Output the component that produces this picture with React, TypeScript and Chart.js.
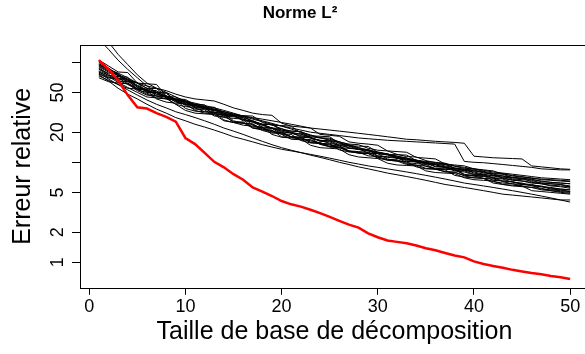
import React, { useEffect, useRef } from "react";
import { Chart, registerables } from "chart.js";

Chart.register(...registerables);

const sizes = [1,2,3,4,5,6,7,8,9,10,11,12,13,14,15,16,17,18,19,20,21,22,23,24,25,26,27,28,29,30,31,32,33,34,35,36,37,38,39,40,41,42,43,44,45,46,47,48,49,50];

const redErr = [105,85,66,47,35.5,34.5,31,28.5,25.5,17.5,15.2,12.4,10.1,8.9,7.6,6.7,5.6,5.1,4.6,4.1,3.8,3.6,3.35,3.1,2.85,2.6,2.38,2.22,1.95,1.78,1.65,1.6,1.55,1.47,1.38,1.32,1.24,1.17,1.12,1.02,0.96,0.92,0.88,0.84,0.81,0.78,0.76,0.73,0.71,0.68];

const err01 = [220,160,120,95,75,62,55,50,45,41, 38,35,33,31,29,27,25,23.5,22,21, 20,19,18,17.5,17,16,15,14,13,12.5, 12,11.5,11,10.5,10.2,10,9.6,9.2,8.9,8.6, 8.3,8,7.8,7.6,7.4,7.2,7,6.9,6.8,6.7];
const err02 = [170,135,105,85,70,58,50,46,43,40, 37,35,33,32,30,28,26,24,22,20.5, 19.5,18.5,17.5,16.5,15.5,14.8,14,13.5,13,12.3, 11.8,11.2,10.7,10.3,9.8,9.4,9,8.6,8.3,8, 7.6,7.3,7,6.7,6.5,6.3,6.1,5.9,5.8,5.7];
const err03 = [100,88,75,66,58,52,48,45,42,40, 38,36,34,32,30,29,28,27,26,25, 24,23,22,21.5,21,20.5,20,19.5,19,18.5, 18,17.5,17,16.8,16.5,16.2,16,15.8,15.5,11.5, 11.3,11.1,11,10.9,10.8,9.2,9,8.8,8.6,8.5];
const err04 = [95,85,78,70,62,55,50,46,43,41, 39,37,35,33,31,29,27,25.5,24,23, 22,21,20,19.5,19,18.5,18,17.5,17.2,16.9, 16.6,16.4,16.2,16,15.8,15.6,15.4,15.2,10.2,10, 9.9,9.7,9.5,9.3,9.1,8.9,8.6,8.5,8.4,8.4];
const err05 = [75,65,55,48,43,38,34,31,28,26, 24,22.5,21,19.5,18,17,16,15,14.2,13.5, 13,12.5,12,11.5,11,10.5,10,9.6,9.2,8.9, 8.6,8.3,8,7.7,7.4,7.1,6.8,6.5,6.2,6, 5.8,5.6,5.4,5.2,5,4.8,4.6,4.4,4.2,4];
const err06 = [80,72,63,56,50,45,44,43.5,38,33, 31,30.5,30,26,25,24.8,22,21,20.8,19, 17,16.8,16.5,15.5,14.8,14.6,13,12.8,12.6,11.5, 11.2,11,10.4,10.2,9.6,9.5,8.8,8.6,8.5,7.8, 7.5,7.4,7.3,6.8,6.7,6.6,6.2,6.1,6,5.8];
const err07 = [88,76,66,60,54,53,52,44,38,36, 35.5,35,30,28,27.5,27,22,21.5,21,18, 17.8,17.5,15.8,15.5,15.2,14,13.8,13.6,12.4,12.2, 12,10.9,10.7,10.5,9.7,9.6,9.5,8.7,8.5,8.4, 7.8,7.7,7.6,7,6.9,6.8,6.4,6.3,6.2,6.1];
const err08 = [92,82,74,68,62,61,60,46,42,41.5, 35,34.5,31,29.5,29,26.5,26,23.5,22,21.8, 19.5,19.3,17.5,16.6,16.4,15,14.8,13.6,13.4,12.4, 12.2,11.2,11,10.1,10,9.1,9,8.3,8.2,7.6, 7.5,7,6.9,6.6,6.5,6.2,6.1,5.8,5.7,5.5];
const err09 = [70,64,62,61,52,47,46,45.5,40,38, 37.5,34,33.5,30,29.5,26,25.5,22.5,22,20, 19.8,18,17.8,16.2,16,14.7,14.5,13.4,13.2,12.2, 12,11,10.8,10,9.8,9,8.9,8.2,8,7.5, 7.4,6.9,6.8,6.3,6.2,5.8,5.7,5.4,5.3,5.1];
const err10 = [85,78,77,62,55,54,46,43,42.5,37, 34,33.5,29,28.8,25.5,25.3,22.5,22.3,20,19.8, 18,17.8,16,15.8,14.2,14,12.8,12.6,11.6,11.4, 10.5,10.3,9.5,9.4,8.7,8.6,8,7.9,7.4,7.3, 6.9,6.8,6.5,6.4,6.1,6,5.7,5.6,5.4,5.3];
const err11 = [78,68,60,53,47,42,38,35,32,30, 28,26,24,22,20.5,19,17.5,16.2,15,14, 13.2,12.5,11.8,11.2,10.6,10,9.5,9,8.6,8.2, 7.8,7.5,7.2,6.9,6.6,6.3,6,5.8,5.6,5.4, 5.2,5,4.8,4.7,4.6,4.5,4.4,4.3,4.2,4.2];
const err12 = [97,86,76,67,59,53,48,45,42,39.5, 37,35,33.5,32,30.5,29,27.5,26,24.5,23, 21.5,20,18.8,17.6,16.6,15.6,14.8,14,13.3,12.7, 12.1,11.5,11,10.5,10,9.6,9.2,8.8,8.5,8.2, 7.9,7.6,7.3,7.1,6.9,6.7,6.5,6.3,6.2,6.1];
const err13 = [82,74,72,71,56,51,50,49,41,38, 37,36.5,32,30,29.5,29,25.5,24,23.8,21, 20.5,20.2,17.5,16.5,16.3,16.1,13.8,13.5,13.3,11.6, 11.4,11.2,9.9,9.7,9.5,8.6,8.5,8.4,7.5,7.4, 7.3,6.6,6.5,6.4,6,5.9,5.8,5.5,5.4,5.3];
const err14 = [76,70,68,66,62,58,55,52,48,45, 43,42,41,38,35,33,31,30,29.5,24.6, 23,22.5,22,19,18.6,18.2,16,15.5,15.2,14.8, 13,12.8,12.6,11.2,11,10.8,9.6,9.4,9.2,8.6, 8.4,8.2,7.6,7.4,7.2,6.9,6.8,6.7,6.6,6.5];
const err15 = [90,80,70,61,54,48,44,43,42.5,34.5, 32.5,32,31.5,26.5,25,24.5,24,20.8,19.6,19.3, 19,16.5,15.6,15.4,15.2,13.3,12.7,12.5,12.3,11, 10.5,10.3,10.1,9,8.6,8.5,8.4,7.4,7.1,7, 6.9,6.2,6,5.9,5.8,5.2,5.1,5,4.9,4.8];
const err16 = [105,92,80,79,62,55,54.5,46,43,42.5, 37.5,35,34.8,31,29,28.8,25.5,24,23.8,21.6, 20.5,20.3,18.5,17.6,17.4,16,15.2,15,13.8,13.2, 13,12,11.4,11.3,10.4,9.9,9.8,9.1,8.7,8.6, 8.1,7.8,7.7,7.3,7.1,7,6.7,6.6,6.5,6.4];
const err17 = [73,66,60,55,54,53,43,40,39,38.5, 33,31,30.5,30,25,23.5,23,22.5,19,17.8, 17.5,17.2,14.8,14,13.8,13.6,11.9,11.3,11.1,10.9, 9.8,9.4,9.3,9.2,8.2,7.9,7.8,7.7,7,6.7, 6.6,6.5,6,5.8,5.7,5.6,5.3,5.2,5.1,5];
const err18 = [86,74,65,64,63,49,46,45.5,45,38, 36,35.8,35.5,31,29.5,29.3,29,25,23.5,23.3, 23,19.6,18.4,18.2,18,15.4,14.6,14.5,14.4,12.6, 12,11.9,11.8,10.4,9.9,9.8,9.7,8.7,8.3,8.2, 8.1,7.4,7.1,7,6.9,6.4,6.2,6.1,6,5.6];
const err19 = [94,84,73,64,57,51,50.5,50,41,38.5, 38,37.5,31,29,28.5,28,23.5,22,21.8,19.2, 18,17.8,17.6,15.2,14.4,14.2,13,12.4,12.3,12.2, 10.8,10.3,10.2,10.1,9.1,8.7,8.6,8.5,7.6,7.3, 7.2,7.1,6.4,6.1,6,5.9,5.4,5.3,5.2,5.1];
const err20 = [80,70,69,68,53,50,49.5,44,41,40.5, 35,32,31.5,31,26,24.5,24.2,21.5,20.2,20, 18,17,16.9,15.1,14.3,14.2,12.9,12.3,12.2,11.2, 10.7,10.6,9.7,9.3,9.2,8.5,8.1,8,7.3,7, 6.9,6.4,6.2,6.1,5.8,5.6,5.5,5.2,5,4.9];

const blackRuns = [err01,err02,err03,err04,err05,err06,err07,err08,err09,err10,err11,err12,err13,err14,err15,err16,err17,err18,err19,err20];

const xTicks = [0, 10, 20, 30, 40, 50];
const yTicks = [1, 2, 5, 10, 20, 50, 100];
const yTickLabels = [1, 2, 5, 20, 50];

const FONT = "'Liberation Sans', Arial, Helvetica, sans-serif";

export default function App() {
  const ref = useRef<HTMLCanvasElement | null>(null);
  useEffect(() => {
    const canvas = ref.current;
    if (!canvas) return;
    const toPts = (arr: number[]) => arr.map((v, i) => ({ x: sizes[i], y: v }));
    const datasets: any[] = [
      {
        label: "red",
        data: toPts(redErr),
        borderColor: "#ff0000",
        borderWidth: 2.5,
        pointRadius: 0,
        tension: 0,
      },
      ...blackRuns.map((arr, k) => ({
        label: "run" + (k + 1),
        data: toPts(arr),
        borderColor: "#000000",
        borderWidth: 1,
        pointRadius: 0,
        tension: 0,
      })),
    ];

    const boxPlugin = {
      id: "rbox",
      afterDraw(chart: any) {
        const { ctx, chartArea, scales } = chart;
        ctx.save();
        ctx.strokeStyle = "#000";
        ctx.lineWidth = 1;
        ctx.strokeRect(
          Math.round(chartArea.left) + 0.5,
          Math.round(chartArea.top) + 0.5,
          Math.round(chartArea.right - chartArea.left),
          Math.round(chartArea.bottom - chartArea.top)
        );
        const ys = scales.y;
        ctx.fillStyle = "#000";
        ctx.font = `18px ${FONT}`;
        ctx.textAlign = "center";
        ctx.textBaseline = "alphabetic";
        for (const v of yTickLabels) {
          const py = ys.getPixelForValue(v);
          ctx.save();
          ctx.translate(63, py);
          ctx.rotate(-Math.PI / 2);
          ctx.fillText(String(v), 0, 0);
          ctx.restore();
        }
        ctx.restore();
      },
    };

    const chart = new Chart(canvas, {
      type: "line",
      data: { datasets },
      plugins: [boxPlugin],
      options: {
        animation: false,
        responsive: false,
        devicePixelRatio: 1,
        layout: { padding: { left: 11, right: 11, top: 0, bottom: 0 } },
        plugins: {
          legend: { display: false },
          tooltip: { enabled: false },
          title: {
            display: true,
            text: "Norme L²",
            color: "#000",
            font: { family: FONT, size: 17, weight: "bold" },
            padding: { top: 3, bottom: 21.6 },
          },
        },
        scales: {
          x: {
            type: "linear",
            min: -0.96,
            max: 51.96,
            afterBuildTicks: (s: any) => {
              s.ticks = xTicks.map((v) => ({ value: v }));
            },
            afterFit: (s: any) => {
              s.height = 66.3;
            },
            border: { display: false },
            grid: {
              display: true,
              drawOnChartArea: false,
              drawTicks: true,
              tickLength: 7,
              color: "#000",
              lineWidth: 1,
            },
            ticks: {
              color: "#000",
              font: { family: FONT, size: 18 },
              padding: 2,
              maxRotation: 0,
              autoSkip: false,
              callback: (v: any) => String(v),
            },
            title: {
              display: true,
              text: "Taille de base de décomposition",
              color: "#000",
              font: { family: FONT, size: 25 },
              padding: { top: 0, bottom: 7 },
            },
          },
          y: {
            type: "logarithmic",
            min: 0.557,
            max: 148.9,
            afterBuildTicks: (s: any) => {
              s.ticks = yTicks.map((v) => ({ value: v }));
            },
            afterFit: (s: any) => {
              s.width = 69;
            },
            border: { display: false },
            grid: {
              display: true,
              drawOnChartArea: false,
              drawTicks: true,
              tickLength: 8,
              color: "#000",
              lineWidth: 1,
            },
            ticks: { display: false },
            title: {
              display: true,
              text: "Erreur relative",
              color: "#000",
              font: { family: FONT, size: 25, lineHeight: 1 },
              padding: { top: 0, bottom: 0 },
            },
          },
        },
      },
    } as any);
    return () => chart.destroy();
  }, []);

  return (
    <div
      style={{
        position: "absolute",
        left: 0,
        top: 0,
        width: 585,
        height: 354,
        overflow: "hidden",
        background: "#fff",
      }}
    >
      <canvas ref={ref} width={600} height={354} style={{ width: 600, height: 354, display: "block" }} />
    </div>
  );
}
